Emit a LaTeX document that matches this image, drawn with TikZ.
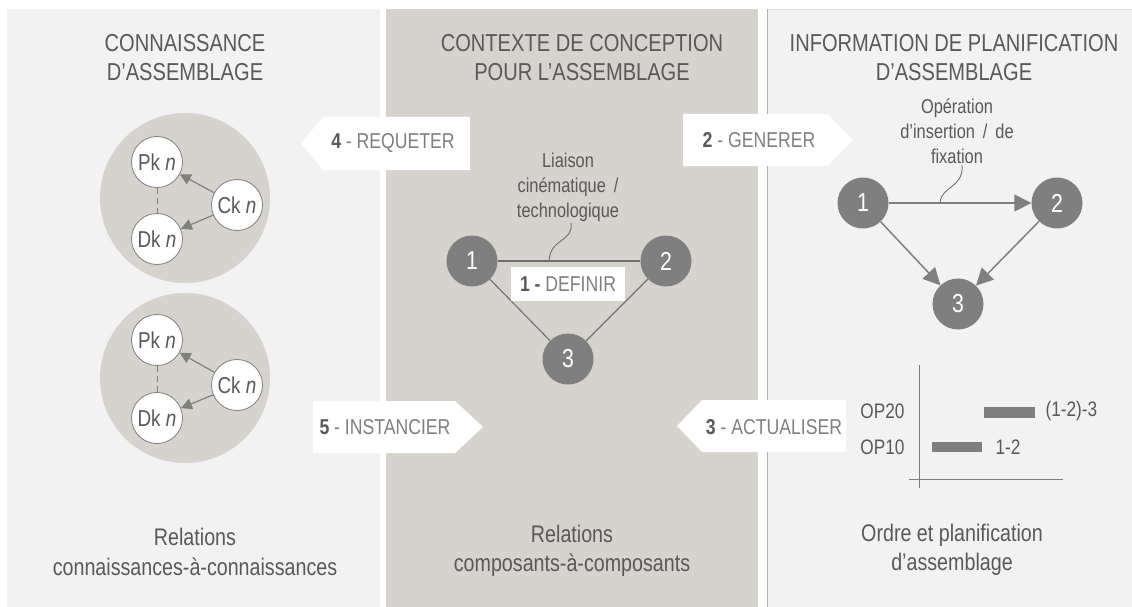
\documentclass[tikz,border=0pt]{standalone}
\usepackage{fontspec}
\setmainfont{Liberation Sans}[FakeStretch=0.82]
\usetikzlibrary{arrows.meta}
\definecolor{panel}{HTML}{F2F2F2}
\definecolor{midpanel}{HTML}{D6D2CD}
\definecolor{txt}{HTML}{595959}
\definecolor{lbl}{HTML}{7F7F7F}
\definecolor{nodegray}{HTML}{7F7F7F}
\definecolor{edgegray}{HTML}{6F6F6F}
\newcommand{\fsz}[2]{\fontsize{#1}{#2}\selectfont}
\begin{document}
\begin{tikzpicture}[x=1pt,y=-1pt,
  title/.style={text=txt, align=center, font=\fsz{24.5}{29}},
  foot/.style={text=txt, align=center, font=\fsz{24}{29.5}},
  arrowbox/.style={fill=white},
  arrowtext/.style={text=lbl, font=\fsz{21.5}{24}},
  note/.style={text=txt, align=center, font=\fsz{20}{25}},
  numnode/.style={circle, fill=nodegray, text=white, minimum size=51pt, inner sep=0pt, font=\fsz{26}{28}},
  knode/.style={circle, fill=white, draw=nodegray, line width=0.8pt, minimum size=51pt, inner sep=0pt, text=txt, font=\fsz{23}{26}},
  bigcircle/.style={circle, fill=midpanel, minimum size=170pt, inner sep=0pt},
  edge/.style={draw=edgegray, line width=1.1pt},
  dirEdge/.style={draw=nodegray, line width=1.5pt, -{Triangle[length=17pt,width=17pt]}},
  karrow/.style={draw=nodegray, line width=1.2pt, -{Triangle[length=11pt,width=11pt]}},
  curl/.style={draw=edgegray, line width=0.9pt},
  gantt/.style={text=txt, font=\fsz{21}{23}},
  bar/.style={fill=nodegray},
  axis/.style={draw=nodegray, line width=0.8pt}
]
\useasboundingbox (0,0) rectangle (1132,607);
\fill[white] (0,0) rectangle (1132,607);
% panels
\fill[panel] (7,9) rectangle (380,607);
\fill[midpanel] (386,9) rectangle (758,607);
\fill[panel] (767,9) rectangle (1132,607);
\draw[black!30, line width=0.8pt] (767.5,607) -- (767.5,9.5);
\draw[black!12, line width=0.8pt] (767.5,9.5) -- (1132,9.5);

% titles
\node[title] (t1) at (185,57.5) {CONNAISSANCE\\D’ASSEMBLAGE};
\node[title] (t2) at (582,57.5) {CONTEXTE DE CONCEPTION\\POUR L’ASSEMBLAGE};
\node[title] (t3) at (954,57.5) {INFORMATION DE PLANIFICATION\\D’ASSEMBLAGE};

% knowledge circles (top)
\node[bigcircle] (kc1) at (185,198) {};
\node[knode] (pk1) at (157,162) {Pk \textit{n}};
\node[knode] (dk1) at (157,239) {Dk \textit{n}};
\node[knode] (ck1) at (237,205) {Ck \textit{n}};
\draw[karrow] (ck1) -- (pk1);
\draw[karrow] (ck1) -- (dk1);
\draw[draw=nodegray, line width=0.9pt, dash pattern=on 6pt off 4pt] (pk1) -- (dk1);

% knowledge circles (bottom)
\node[bigcircle] (kc2) at (185,378) {};
\node[knode] (pk2) at (157,340) {Pk \textit{n}};
\node[knode] (dk2) at (157,418) {Dk \textit{n}};
\node[knode] (ck2) at (237,385) {Ck \textit{n}};
\draw[karrow] (ck2) -- (pk2);
\draw[karrow] (ck2) -- (dk2);
\draw[draw=nodegray, line width=0.9pt, dash pattern=on 6pt off 4pt] (pk2) -- (dk2);

% middle graph
\node[note] (liaison) at (568,187) {Liaison\\cinématique\, /\\technologique};
\node[numnode] (m1) at (472,261) {1};
\node[numnode] (m2) at (666,261) {2};
\node[numnode] (m3) at (568,359) {3};
\draw[edge] (m1) -- (m2);
\draw[edge] (m1) -- (m3);
\draw[edge] (m2) -- (m3);
\coordinate (lk) at (549,261);
\draw[curl] (liaison.south) ++(3,-2) .. controls (574,242) and (550,238) .. (lk);
\node[fill=white, minimum width=114pt, minimum height=34pt, inner sep=0pt, text=lbl, font=\fsz{21.5}{24}] (def) at (568,284) {\textbf{\color{txt}1 -} DEFINIR};

% right graph
\node[note] (oper) at (957,131) {Opération\\d’insertion\, /\, de\\fixation};
\node[numnode] (r1) at (863,203) {1};
\node[numnode] (r2) at (1057,203) {2};
\node[numnode] (r3) at (958,304) {3};
\draw[dirEdge] (r1) -- (r2);
\draw[dirEdge] (r1) -- (r3);
\draw[dirEdge] (r2) -- (r3);
\coordinate (rk) at (940,203);
\draw[curl] (oper.south) ++(5,-2) .. controls (964,188) and (941,186) .. (rk);

% process arrows
\path[arrowbox] (301,143.5) coordinate (a4tip) -- (323,117) -- (470,117) -- (470,170) -- (323,170) -- cycle;
\node[arrowtext] (a4) at (393,143) {\textbf{\color{txt}4} - REQUETER};
\path[arrowbox] (683,114) -- (827,114) -- (853,140) coordinate (a2tip) -- (827,166) -- (683,166) -- cycle;
\node[arrowtext] (a2) at (759,140) {\textbf{\color{txt}2} - GENERER};
\path[arrowbox] (313,401) -- (455,401) -- (483,427) coordinate (a5tip) -- (455,453) -- (313,453) -- cycle;
\node[arrowtext] (a5) at (385,427) {\textbf{\color{txt}5} - INSTANCIER};
\path[arrowbox] (677,426) coordinate (a3tip) -- (702,400) -- (846,400) -- (846,452) -- (702,452) -- cycle;
\node[arrowtext] (a3) at (774,427) {\textbf{\color{txt}3} - ACTUALISER};

% gantt chart
\coordinate (vtop) at (919,365);
\coordinate (vbot) at (919,488);
\coordinate (hleft) at (909,479);
\coordinate (hright) at (1063,479);
\draw[axis] (vtop) -- (vbot);
\draw[axis] (hleft) -- (hright);
\fill[bar] (984,407) rectangle (1035,418);
\fill[bar] (932,442) rectangle (982,452);
\node[gantt, anchor=east] (op20) at (908,411) {OP20};
\node[gantt, anchor=east] (op10) at (908,447) {OP10};
\node[gantt, anchor=west] (g2) at (1042,411) {(1-2)-3};
\node[gantt, anchor=west] (g1) at (992,447) {1-2};

% footers
\node[foot] (f1) at (195,552) {Relations\\connaissances-à-connaissances};
\node[foot] (f2) at (572,551) {Relations\\composants-à-composants};
\node[foot] (f3) at (952,550) {Ordre et planification\\d’assemblage};
\end{tikzpicture}
\end{document}
